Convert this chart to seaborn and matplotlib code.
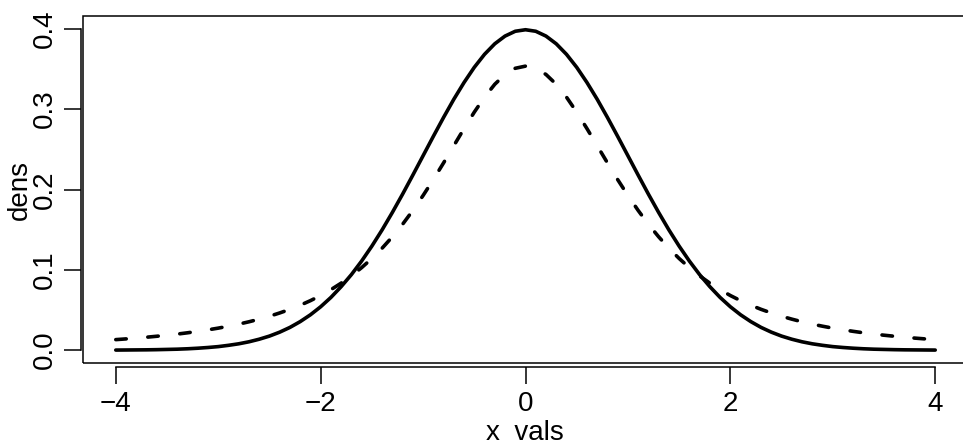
import matplotlib
matplotlib.use("Agg")
import matplotlib.pyplot as plt
from matplotlib.patches import Rectangle
import seaborn as sns
import pandas as pd

# Grid of x values and the two density curves evaluated on it
x_vals = [
    -4.0, -3.9, -3.8, -3.7, -3.6, -3.5, -3.4, -3.3, -3.2, -3.1,
    -3.0, -2.9, -2.8, -2.7, -2.6, -2.5, -2.4, -2.3, -2.2, -2.1,
    -2.0, -1.9, -1.8, -1.7, -1.6, -1.5, -1.4, -1.3, -1.2, -1.1,
    -1.0, -0.9, -0.8, -0.7, -0.6, -0.5, -0.4, -0.3, -0.2, -0.1,
    0.0,
    0.1, 0.2, 0.3, 0.4, 0.5, 0.6, 0.7, 0.8, 0.9, 1.0,
    1.1, 1.2, 1.3, 1.4, 1.5, 1.6, 1.7, 1.8, 1.9, 2.0,
    2.1, 2.2, 2.3, 2.4, 2.5, 2.6, 2.7, 2.8, 2.9, 3.0,
    3.1, 3.2, 3.3, 3.4, 3.5, 3.6, 3.7, 3.8, 3.9, 4.0,
]

# Normal density (solid)
dens = [
    0.0001, 0.0002, 0.0003, 0.0004, 0.0006, 0.0009, 0.0012, 0.0017, 0.0024, 0.0033,
    0.0044, 0.0060, 0.0079, 0.0104, 0.0136, 0.0175, 0.0224, 0.0283, 0.0355, 0.0440,
    0.0540, 0.0656, 0.0790, 0.0940, 0.1109, 0.1295, 0.1497, 0.1714, 0.1942, 0.2179,
    0.2420, 0.2661, 0.2897, 0.3123, 0.3332, 0.3521, 0.3683, 0.3814, 0.3910, 0.3970,
    0.3989,
    0.3970, 0.3910, 0.3814, 0.3683, 0.3521, 0.3332, 0.3123, 0.2897, 0.2661, 0.2420,
    0.2179, 0.1942, 0.1714, 0.1497, 0.1295, 0.1109, 0.0940, 0.0790, 0.0656, 0.0540,
    0.0440, 0.0355, 0.0283, 0.0224, 0.0175, 0.0136, 0.0104, 0.0079, 0.0060, 0.0044,
    0.0033, 0.0024, 0.0017, 0.0012, 0.0009, 0.0006, 0.0004, 0.0003, 0.0002, 0.0001,
]

# Heavy-tailed density (dashed)
dens_t = [
    0.0131, 0.0140, 0.0150, 0.0161, 0.0173, 0.0186, 0.0200, 0.0216, 0.0234, 0.0253,
    0.0274, 0.0298, 0.0324, 0.0353, 0.0386, 0.0422, 0.0463, 0.0508, 0.0559, 0.0616,
    0.0680, 0.0753, 0.0834, 0.0925, 0.1027, 0.1141, 0.1269, 0.1411, 0.1567, 0.1739,
    0.1925, 0.2123, 0.2331, 0.2545, 0.2758, 0.2963, 0.3150, 0.3310, 0.3432, 0.3509,
    0.3536,
    0.3509, 0.3432, 0.3310, 0.3150, 0.2963, 0.2758, 0.2545, 0.2331, 0.2123, 0.1925,
    0.1739, 0.1567, 0.1411, 0.1269, 0.1141, 0.1027, 0.0925, 0.0834, 0.0753, 0.0680,
    0.0616, 0.0559, 0.0508, 0.0463, 0.0422, 0.0386, 0.0353, 0.0324, 0.0298, 0.0274,
    0.0253, 0.0234, 0.0216, 0.0200, 0.0186, 0.0173, 0.0161, 0.0150, 0.0140, 0.0131,
]

x_ticks = [-4, -2, 0, 2, 4]
x_tick_labels = ["\u22124", "\u22122", "0", "2", "4"]
y_ticks = [0.0, 0.1, 0.2, 0.3, 0.4]
y_tick_labels = ["0.0", "0.1", "0.2", "0.3", "0.4"]

df = pd.DataFrame({"x_vals": x_vals, "dens": dens, "dens_t": dens_t})

sns.set_style("white")
plt.rcParams["font.family"] = ["Liberation Sans", "DejaVu Sans"]
plt.rcParams["text.color"] = "black"
plt.rcParams["axes.labelcolor"] = "black"
plt.rcParams["xtick.color"] = "black"
plt.rcParams["ytick.color"] = "black"

W, H = 963, 442
fig = plt.figure(figsize=(W / 100, H / 100), dpi=100)
ax = fig.add_axes([83 / W, 79 / H, 885 / W, 347 / H])

line_w = 2.6
sns.lineplot(data=df, x="x_vals", y="dens", ax=ax, color="black",
             linewidth=line_w, sort=False, solid_capstyle="round")
sns.lineplot(data=df, x="x_vals", y="dens_t", ax=ax, color="black",
             linewidth=line_w, sort=False, linestyle=(0, (2.9, 6.0)))
ax.lines[-1].set_dash_capstyle("round")

ax.set_xlim(-4.32, 4.32)
ax.set_ylim(-0.016, 0.416)

# Frame around the plotting region
ax.add_patch(Rectangle((0, 0), 1, 1, transform=ax.transAxes, fill=False,
                       edgecolor="black", linewidth=1.1, clip_on=False))

# Separate axis lines, slightly offset from the frame
for side in ("top", "right"):
    ax.spines[side].set_visible(False)
ax.spines["left"].set_position(("outward", 1.5))
ax.spines["left"].set_bounds(0.0, 0.4)
ax.spines["bottom"].set_position(("outward", 3.0))
ax.spines["bottom"].set_bounds(-4, 4)
for side in ("left", "bottom"):
    ax.spines[side].set_color("black")
    ax.spines[side].set_linewidth(1.1)

ax.set_xticks(x_ticks)
ax.set_xticklabels(x_tick_labels)
ax.set_yticks(y_ticks)
ax.set_yticklabels(y_tick_labels, rotation=90, va="center")
ax.tick_params(axis="both", direction="out", length=12.5, width=1.1,
               labelsize=20, bottom=True, left=True, top=False, right=False)
ax.tick_params(axis="y", pad=4.3)
ax.tick_params(axis="x", pad=5)

ax.set_xlabel("")
ax.set_ylabel("")
fig.text(27 / W, 1 - 189.5 / H, "dens", rotation=90, rotation_mode="anchor",
         ha="center", va="baseline", fontsize=20)
fig.text(525.5 / W, 1 - 440.5 / H, "x_vals", ha="center", va="baseline",
         fontsize=20)

fig.savefig("out.png", dpi=100)
